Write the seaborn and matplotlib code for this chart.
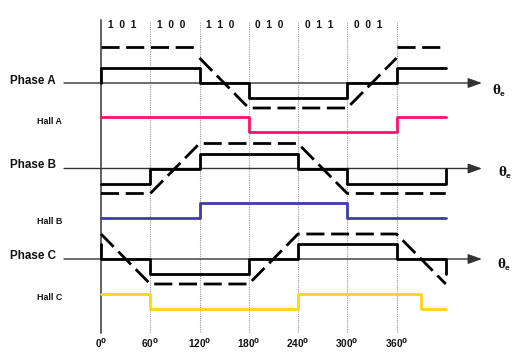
import numpy as np
import pandas as pd
import seaborn as sns
import matplotlib
matplotlib.use("Agg")
import matplotlib.pyplot as plt

# ---------------- data (angles in electrical degrees, levels in unit steps) -------------
hall_codes = ["1  0  1", "1  0  0", "1  1  0", "0  1  0", "0  1  1", "0  0  1"]
tick_angles = [0, 60, 120, 180, 240, 300, 360]

# phase currents (solid)
phase_a_ang = [0, 0, 120, 120, 180, 180, 300, 300, 360, 360, 420]
phase_a_lvl = [0, 1, 1, 0, 0, -1, -1, 0, 0, 1, 1]
phase_b_ang = [0, 60, 60, 120, 120, 240, 240, 300, 300, 420, 420]
phase_b_lvl = [-1, -1, 0, 0, 1, 1, 0, 0, -1, -1, 0]
phase_c_ang = [0, 0, 60, 60, 180, 180, 240, 240, 360, 360, 420, 420]
phase_c_lvl = [1, 0, 0, -1, -1, 0, 0, 1, 1, 0, 0, -1]

# back-EMF (dashed) -- list of segments
emf_a_ang = [[0, 120], [120, 180, 300, 360], [360, 420]]
emf_a_lvl = [[1.44, 1.44], [1, -1, -1, 1], [1.44, 1.44]]
emf_b_ang = [[0, 60, 120, 240, 300, 420]]
emf_b_lvl = [[-1, -1, 1, 1, -1, -1]]
emf_c_ang = [[0, 60, 180, 240, 360, 420]]
emf_c_lvl = [[1, -1, -1, 1, 1, -1]]

# hall sensor signals
hall_a_ang = [0, 180, 180, 360, 360, 420]
hall_a_lvl = [1, 1, 0, 0, 1, 1]
hall_b_ang = [0, 120, 120, 300, 300, 420]
hall_b_lvl = [0, 0, 1, 1, 0, 0]
hall_c_ang = [0, 60, 60, 240, 240, 390, 390, 420]
hall_c_lvl = [1, 1, 0, 0, 1, 1, 0, 0]

# ---------------- layout (figure pixel units, y downward) ----------------
W, H = 525, 358
X0_PX, PX60 = 101, 49.25
def px2deg(px):
    return (px - X0_PX) * 60.0 / PX60

AXIS_Y = {"A": 83, "B": 168.5, "C": 259}
HALL_Y = {"A": 132, "B": 218, "C": 309}
AMP_I, AMP_E, AMP_H = 15, 25, 15

sns.set_theme(style="white")
plt.rcParams["font.family"] = ["Liberation Sans", "DejaVu Sans"]

fig = plt.figure(figsize=(W / 100, H / 100), dpi=100)
ax = fig.add_axes([0, 0, 1, 1])
ax.set_xlim(px2deg(0), px2deg(W))
ax.set_ylim(H, 0)

def frame(segments, base, amp):
    rows = []
    for i, (angs, lvls) in enumerate(segments):
        for a, l in zip(angs, lvls):
            rows.append({"angle": a, "y": base - l * amp, "seg": i})
    return pd.DataFrame(rows)

# grid lines
for a in tick_angles[1:]:
    ax.plot([a, a], [22, 333], color="#9a9a9a", lw=0.8, ls=(0, (1, 1)), zorder=1)
ax.plot([0, 0], [20, 333], color="#555555", lw=1.3, zorder=2)

# horizontal axes with arrows
for k in "ABC":
    y = AXIS_Y[k]
    ax.annotate("", xy=(px2deg(482), y), xytext=(px2deg(64), y),
                arrowprops=dict(arrowstyle="-|>,head_length=0.7,head_width=0.25",
                                color="#333333", lw=1.0, shrinkA=0, shrinkB=0),
                zorder=2)

# currents
for k, angs, lvls in [("A", phase_a_ang, phase_a_lvl), ("B", phase_b_ang, phase_b_lvl),
                      ("C", phase_c_ang, phase_c_lvl)]:
    df = frame([(angs, lvls)], AXIS_Y[k], AMP_I)
    sns.lineplot(data=df, x="angle", y="y", units="seg", estimator=None, sort=False,
                 color="black", lw=2.0, legend=False, ax=ax, zorder=4)

# back emf
for k, angs, lvls in [("A", emf_a_ang, emf_a_lvl), ("B", emf_b_ang, emf_b_lvl),
                      ("C", emf_c_ang, emf_c_lvl)]:
    df = frame(list(zip(angs, lvls)), AXIS_Y[k], AMP_E)
    sns.lineplot(data=df, x="angle", y="y", units="seg", estimator=None, sort=False,
                 color="black", lw=2.0, linestyle=(0, (6.5, 2.4)), legend=False, ax=ax, zorder=4)

# halls
for k, angs, lvls, col in [("A", hall_a_ang, hall_a_lvl, "#ff0f6e"),
                           ("B", hall_b_ang, hall_b_lvl, "#3d3da5"),
                           ("C", hall_c_ang, hall_c_lvl, "#ffd21e")]:
    df = frame([(angs, lvls)], HALL_Y[k], AMP_H)
    sns.lineplot(data=df, x="angle", y="y", units="seg", estimator=None, sort=False,
                 color=col, lw=2.0, legend=False, ax=ax, zorder=3)

# labels
phase_lbl_y = {"A": 80.5, "B": 165.5, "C": 256}
hall_lbl_y = {"A": 121, "B": 221, "C": 297}
theta_pos = {"A": (492, 90), "B": (498, 172), "C": (497, 264)}
for k in "ABC":
    ax.text(px2deg(56), phase_lbl_y[k], f"Phase {k}", ha="right", va="center",
            fontsize=8.4, fontweight="bold", color="#111111")
    ax.text(px2deg(62), hall_lbl_y[k], f"Hall {k}", ha="right", va="center",
            fontsize=6.4, fontweight="bold", color="#111111")
    tx, ty = theta_pos[k]
    ax.text(px2deg(tx), ty, "θ", ha="left", va="center", family="Liberation Serif",
            fontsize=11, fontweight="bold", color="#111111")
    ax.text(px2deg(tx + 8), ty + 4, "e", ha="left", va="center", family="Liberation Sans",
            fontsize=6, fontweight="bold", color="#111111")

for i, code in enumerate(hall_codes):
    ax.text(i * 60 + 8, 25, code, ha="left", va="center", fontsize=7.3,
            fontweight="bold", color="#111111")

for a in tick_angles:
    ax.text(a, 343, f"{a}" + r"$^{\mathbf{0}}$", ha="center", va="center",
            fontsize=7.3, fontweight="bold", color="#111111", math_fontfamily="dejavusans")

ax.set_axis_off()
fig.savefig("out.png", dpi=100)
